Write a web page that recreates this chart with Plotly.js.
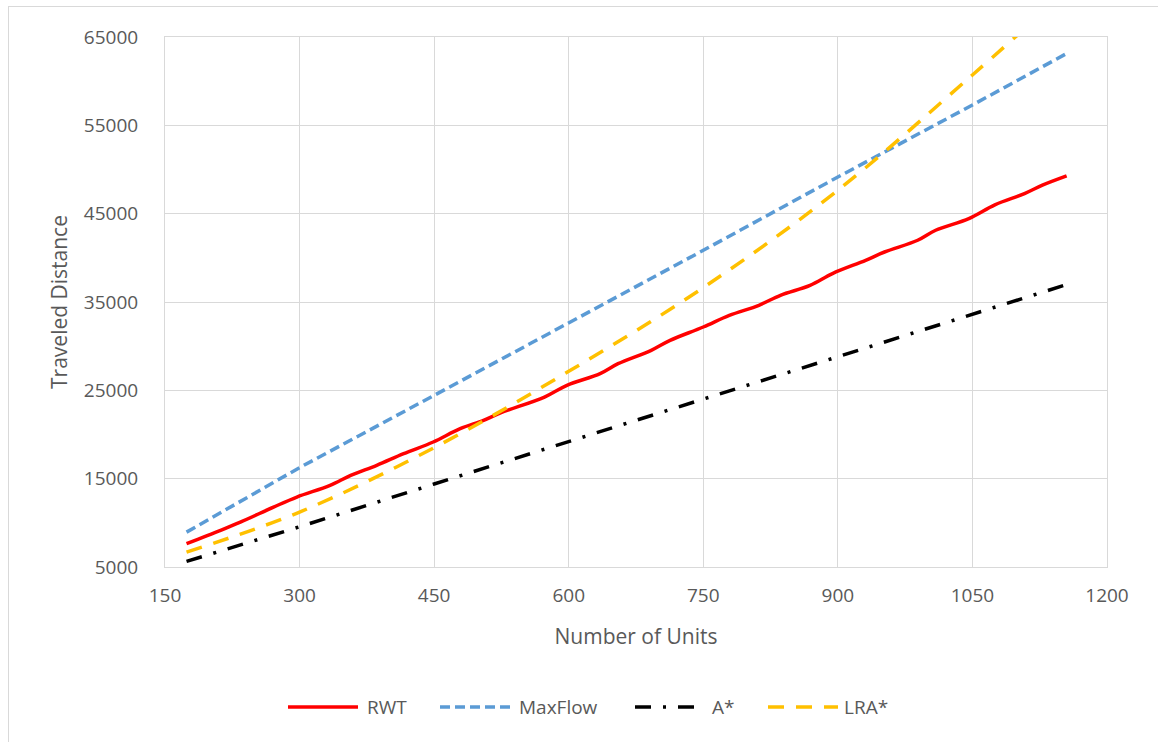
<!DOCTYPE html>
<html><head><meta charset="utf-8">
<script src="https://cdn.plot.ly/plotly-3.0.1.min.js"></script>
<style>
html,body{margin:0;padding:0;overflow:hidden;background:#fff;}
#chart{position:absolute;left:0;top:0;width:1158px;height:742px;}
#frame{position:absolute;left:8px;top:6px;width:1200px;height:800px;border:1px solid #d9d9d9;pointer-events:none;}
</style></head><body>
<div id="chart"></div><div id="frame"></div>
<script>
// ---- data ----
const seriesNames = ['RWT', 'MaxFlow', 'A*', 'LRA*'];
const rwtUnits = [174,212,234,271,297,334,357,386,416,449,479,505,524,573,598,635,655,692,713,750,779,812,836,869,894,931,952,989,1009,1046,1075,1108,1128,1155];
const rwtDistance = [7640,9150,10080,11780,12920,14240,15370,16510,17830,19150,20660,21600,22450,24240,25570,26890,28020,29530,30660,32170,33490,34630,35760,36890,38220,39720,40660,41990,43120,44440,46000,47270,48220,49270];
const maxFlowUnits = [174,300,450,600,750,900,1050,1155];
const maxFlowDistance = [8950,16250,24430,32600,40850,49150,57300,63130];
const aStarUnits = [174,300,450,600,750,900,1050,1155];
const aStarDistance = [5630,9550,14400,19200,23950,28780,33600,36970];
const lraUnits = [174,300,450,600,750,900,1050,1155];
const lraDistance = [6690,11220,18510,27150,36630,47650,60700,70200];
const xTicks = [150,300,450,600,750,900,1050,1200];
const yTicks = [5000,15000,25000,35000,45000,55000,65000];

// ---- styles ----
const W = 1158, H = 742, M = {l:165, r:51, t:37, b:175};
const colors = ['#FF0000', '#5B9BD5', '#000000', '#FFC000'];
const dashes = ['solid', '10px,5px', '16px,12px,3px,12px', '16px,12px'];
const lineShapes = ['spline', 'linear', 'linear', 'spline'];
const xs = [rwtUnits, maxFlowUnits, aStarUnits, lraUnits];
const ys = [rwtDistance, maxFlowDistance, aStarDistance, lraDistance];
const FONT = 'Open Sans, sans-serif';
const TXT = '#595959';

const traces = seriesNames.map((n, i) => ({
  type: 'scatter', mode: 'lines', name: n, x: xs[i], y: ys[i],
  line: {color: colors[i], width: 3.5, dash: dashes[i], shape: lineShapes[i], smoothing: 1},
  showlegend: false, hoverinfo: 'skip'
}));

// custom legend (pixel positions converted to paper coords)
const pw = W - M.l - M.r, ph = H - M.t - M.b;
const px2x = p => (p - M.l) / pw;
const py2y = p => (H - M.b - p) / ph;
const legY = 707;
const legLines = [[288, 358], [440, 511], [635, 700], [768, 838]];
const legText = [365, 517, 710, 842];
const legShapes = seriesNames.map((n, i) => ({
  type: 'line', xref: 'paper', yref: 'paper',
  x0: px2x(legLines[i][0]), x1: px2x(legLines[i][1]), y0: py2y(legY), y1: py2y(legY),
  line: {color: colors[i], width: 3.5, dash: dashes[i]}
}));
const legAnn = seriesNames.map((n, i) => ({
  xref: 'paper', yref: 'paper', x: px2x(legText[i]), y: py2y(legY),
  xanchor: 'left', yanchor: 'middle', showarrow: false, text: n,
  font: {family: FONT, size: 19, color: TXT}
}));

const layout = {
  width: W, height: H, margin: M,
  paper_bgcolor: '#ffffff', plot_bgcolor: '#ffffff',
  showlegend: false,
  font: {family: FONT, size: 19, color: TXT},
  xaxis: {
    range: [150, 1200], tickvals: xTicks, ticktext: xTicks.map(String),
    showgrid: true, gridcolor: '#d9d9d9', gridwidth: 1,
    showline: true, linecolor: '#d9d9d9', linewidth: 1, mirror: true,
    zeroline: false, ticks: 'outside', ticklen: 11, tickcolor: 'rgba(0,0,0,0)',
    tickfont: {family: FONT, size: 19, color: TXT},
    title: {text: 'Number of Units', font: {family: FONT, size: 21, color: TXT}, standoff: 22}
  },
  yaxis: {
    range: [5000, 65000], tickvals: yTicks, ticktext: yTicks.map(String),
    showgrid: true, gridcolor: '#d9d9d9', gridwidth: 1,
    showline: true, linecolor: '#d9d9d9', linewidth: 1, mirror: true,
    zeroline: false, ticks: 'outside', ticklen: 22, tickcolor: 'rgba(0,0,0,0)',
    tickfont: {family: FONT, size: 19, color: TXT},
    title: {text: 'Traveled Distance', font: {family: FONT, size: 21, color: TXT}, standoff: 10}
  },
  shapes: legShapes,
  annotations: legAnn
};

Plotly.newPlot('chart', traces, layout, {staticPlot: true, displayModeBar: false});
</script>
</body></html>
